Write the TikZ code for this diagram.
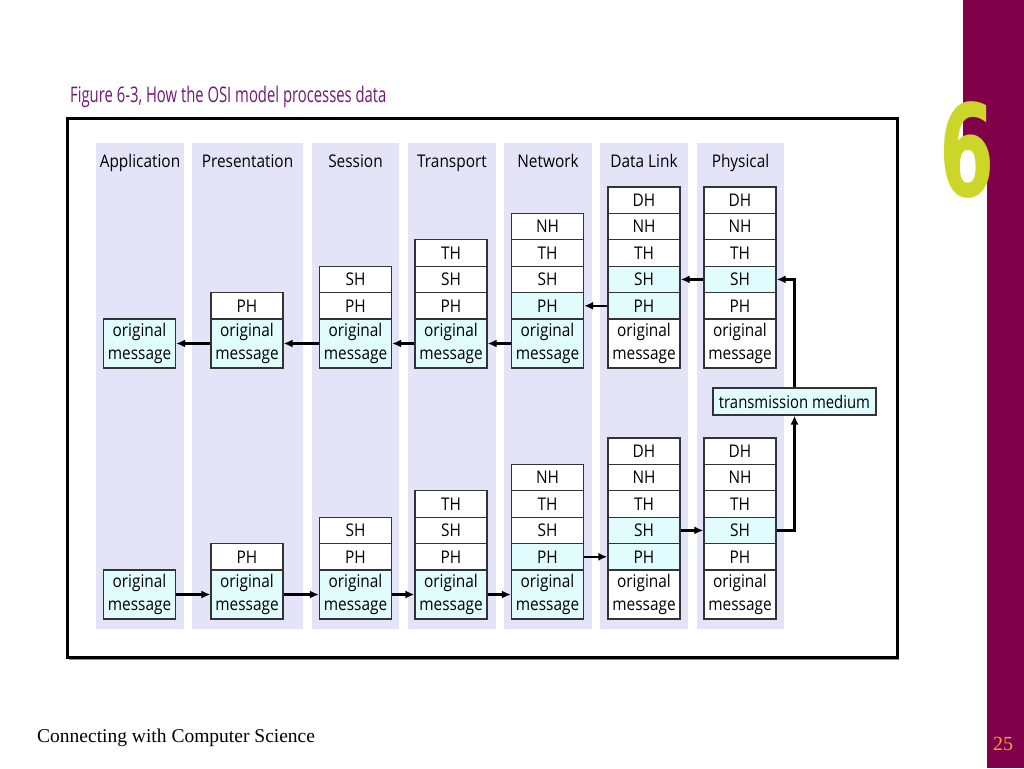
\documentclass[tikz,border=0pt]{standalone}
\usepackage{fontspec}
\usepackage{graphicx}
\setmainfont{Open Sans}
\newfontfamily\seriffam{Liberation Serif}
\newfontfamily\sixfam{DejaVu Sans}
\usetikzlibrary{arrows.meta}
\definecolor{lav}{HTML}{E4E4F8}
\definecolor{cy}{HTML}{E0FCFC}
\definecolor{barcol}{HTML}{80004A}
\definecolor{ttl}{HTML}{701A74}
\definecolor{six}{HTML}{CCD629}
\definecolor{pg}{HTML}{E8A53A}
\newcommand\sq[1]{\scalebox{0.88}[1]{#1}}
\newcommand\om{\sq{\begin{tabular}{@{}c@{}}original\\message\end{tabular}}}
\begin{document}
\begin{tikzpicture}[x=1pt,y=-1pt,
  cell/.style={draw=black!80, line width=1.2pt, fill=white, minimum width=72pt,
    minimum height=26.4pt, inner sep=0pt, font=\fontsize{17.5}{23}\selectfont},
  msg/.style={cell, minimum height=49pt, fill=cy},
  hl/.style={fill=cy},
  colbg/.style={fill=lav},
  coltitle/.style={font=\fontsize{17.5}{20}\selectfont, inner sep=0pt},
  arr/.style={-{Latex[length=9pt,width=8pt]}, line width=2.2pt},
]
\useasboundingbox (0,0) rectangle (1024,768);
\fill[white] (0,0) rectangle (1024,768);

% right bar and chapter number
\fill[barcol] (963,0) rectangle (1024,150);
\fill[barcol] (987,0) rectangle (1024,768);
\node[inner sep=0pt, text=six] (chap) at (967,149.5)
  {\scalebox{0.62}[1]{\sixfam\bfseries\fontsize{128}{128}\selectfont 6}};

% title
\node[anchor=base west, inner sep=0pt, text=ttl] (title) at (70,102.5)
  {\scalebox{0.69}[1]{\fontsize{21.5}{23}\selectfont Figure 6-3, How the OSI model processes data}};

% frame
\draw[black!45, line width=1pt] (69,659.5) -- (899,659.5);
\draw[line width=3pt] (67,118) rectangle (897,657);

% column backgrounds
\fill[colbg] (96,143) rectangle (184,629);
\fill[colbg] (192,143) rectangle (303,629);
\fill[colbg] (312,143) rectangle (399,629);
\fill[colbg] (408,143) rectangle (496,629);
\fill[colbg] (504,143) rectangle (592,629);
\fill[colbg] (600,143) rectangle (688,629);
\fill[colbg] (697,143) rectangle (784,629);

% column titles
\node[coltitle, anchor=base] (ta) at (140,167) {\sq{Application}};
\node[coltitle, anchor=base] (tp) at (247.5,167) {\sq{Presentation}};
\node[coltitle, anchor=base] (ts) at (355.5,167) {\sq{Session}};
\node[coltitle, anchor=base] (tt) at (452,167) {\sq{Transport}};
\node[coltitle, anchor=base] (tn) at (548,167) {\sq{Network}};
\node[coltitle, anchor=base] (td) at (644,167) {\sq{Data Link}};
\node[coltitle, anchor=base] (th) at (740.5,167) {\sq{Physical}};

% ---------- top stacks ----------
\node[msg] (a1M) at (139.5,343.5) {\om};

\node[msg] (p1M) at (247,343.5) {\om};
\node[cell] (p1P) at (247,305.8) {\sq{PH}};

\node[msg] (s1M) at (355.5,343.5) {\om};
\node[cell] (s1P) at (355.5,305.8) {\sq{PH}};
\node[cell] (s1S) at (355.5,279.4) {\sq{SH}};

\node[msg] (t1M) at (451,343.5) {\om};
\node[cell] (t1P) at (451,305.8) {\sq{PH}};
\node[cell] (t1S) at (451,279.4) {\sq{SH}};
\node[cell] (t1T) at (451,253) {\sq{TH}};

\node[msg] (n1M) at (547.5,343.5) {\om};
\node[cell,hl] (n1P) at (547.5,305.8) {\sq{PH}};
\node[cell] (n1S) at (547.5,279.4) {\sq{SH}};
\node[cell] (n1T) at (547.5,253) {\sq{TH}};
\node[cell] (n1N) at (547.5,226.6) {\sq{NH}};

\node[msg,fill=white] (d1M) at (644,343.5) {\om};
\node[cell,hl] (d1P) at (644,305.8) {\sq{PH}};
\node[cell,hl] (d1S) at (644,279.4) {\sq{SH}};
\node[cell] (d1T) at (644,253) {\sq{TH}};
\node[cell] (d1N) at (644,226.6) {\sq{NH}};
\node[cell] (d1D) at (644,200.2) {\sq{DH}};

\node[msg,fill=white] (h1M) at (740,343.5) {\om};
\node[cell] (h1P) at (740,305.8) {\sq{PH}};
\node[cell,hl] (h1S) at (740,279.4) {\sq{SH}};
\node[cell] (h1T) at (740,253) {\sq{TH}};
\node[cell] (h1N) at (740,226.6) {\sq{NH}};
\node[cell] (h1D) at (740,200.2) {\sq{DH}};

% ---------- bottom stacks ----------
\node[msg] (a2M) at (139.5,594.5) {\om};

\node[msg] (p2M) at (247,594.5) {\om};
\node[cell] (p2P) at (247,556.8) {\sq{PH}};

\node[msg] (s2M) at (355.5,594.5) {\om};
\node[cell] (s2P) at (355.5,556.8) {\sq{PH}};
\node[cell] (s2S) at (355.5,530.4) {\sq{SH}};

\node[msg] (t2M) at (451,594.5) {\om};
\node[cell] (t2P) at (451,556.8) {\sq{PH}};
\node[cell] (t2S) at (451,530.4) {\sq{SH}};
\node[cell] (t2T) at (451,504) {\sq{TH}};

\node[msg] (n2M) at (547.5,594.5) {\om};
\node[cell,hl] (n2P) at (547.5,556.8) {\sq{PH}};
\node[cell] (n2S) at (547.5,530.4) {\sq{SH}};
\node[cell] (n2T) at (547.5,504) {\sq{TH}};
\node[cell] (n2N) at (547.5,477.6) {\sq{NH}};

\node[msg,fill=white] (d2M) at (644,594.5) {\om};
\node[cell,hl] (d2P) at (644,556.8) {\sq{PH}};
\node[cell,hl] (d2S) at (644,530.4) {\sq{SH}};
\node[cell] (d2T) at (644,504) {\sq{TH}};
\node[cell] (d2N) at (644,477.6) {\sq{NH}};
\node[cell] (d2D) at (644,451.2) {\sq{DH}};

\node[msg,fill=white] (h2M) at (740,594.5) {\om};
\node[cell] (h2P) at (740,556.8) {\sq{PH}};
\node[cell,hl] (h2S) at (740,530.4) {\sq{SH}};
\node[cell] (h2T) at (740,504) {\sq{TH}};
\node[cell] (h2N) at (740,477.6) {\sq{NH}};
\node[cell] (h2D) at (740,451.2) {\sq{DH}};

% transmission medium
\node[draw=black!80, line width=1.2pt, fill=cy, minimum width=163pt, minimum height=27pt,
  inner sep=0pt, font=\fontsize{17.5}{20}\selectfont] (tm) at (794.5,401.5)
  {\scalebox{0.85}[1]{transmission medium}};

% ---------- arrows top (receiving) ----------
\draw[arr] (tm.north) |- (h1S.east);
\draw[arr] (h1S.west) -- (d1S.east);
\draw[arr] (d1P.west) -- (n1P.east);
\draw[arr] (n1M.west) -- (t1M.east);
\draw[arr] (t1M.west) -- (s1M.east);
\draw[arr] (s1M.west) -- (p1M.east);
\draw[arr] (p1M.west) -- (a1M.east);

% ---------- arrows bottom (sending) ----------
\draw[arr] (a2M.east) -- (p2M.west);
\draw[arr] (p2M.east) -- (s2M.west);
\draw[arr] (s2M.east) -- (t2M.west);
\draw[arr] (t2M.east) -- (n2M.west);
\draw[arr] (n2P.east) -- (d2P.west);
\draw[arr] (d2S.east) -- (h2S.west);
\draw[arr] (h2S.east) -| (tm.south);

% footer
\node[anchor=base west, inner sep=0pt, font=\seriffam\fontsize{19.5}{21}\selectfont] (foot) at (37,742) {Connecting with Computer Science};
\node[anchor=base west, inner sep=0pt, text=pg, font=\seriffam\fontsize{20}{22}\selectfont] (pnum) at (993,750) {25};
\end{tikzpicture}
\end{document}
